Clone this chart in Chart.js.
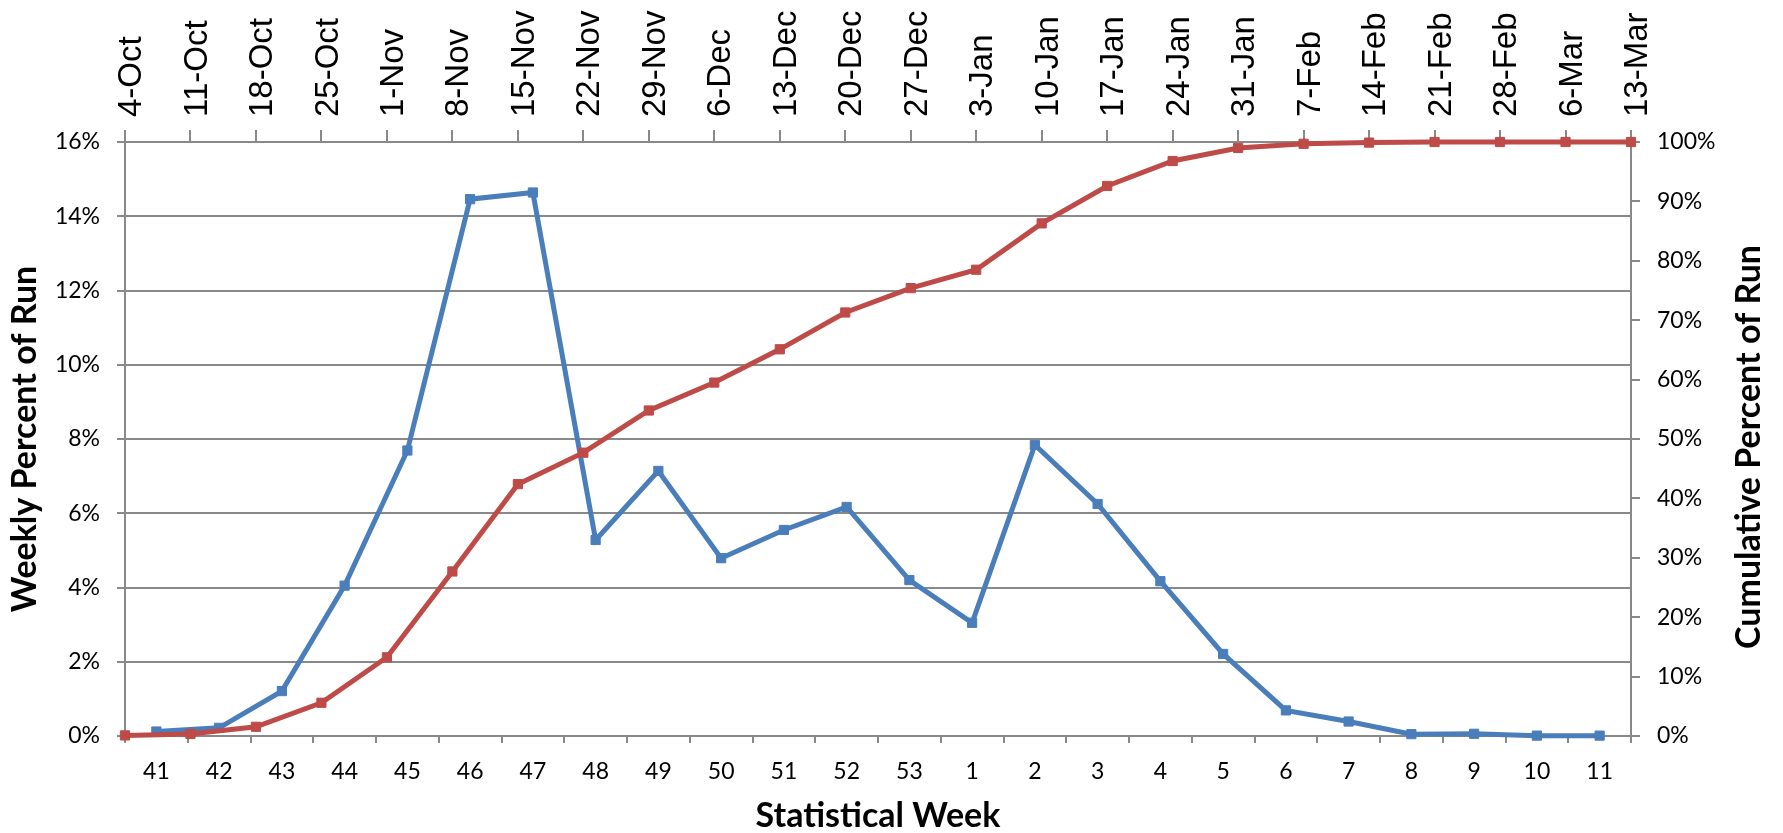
<!DOCTYPE html>
<html>
<head>
<meta charset="utf-8">
<script src="https://cdn.jsdelivr.net/npm/chart.js@4/dist/chart.umd.min.js"></script>
<style>
  html, body { margin: 0; padding: 0; background: #ffffff; }
  #wrap { width: 1783px; height: 833px; }
</style>
</head>
<body>
<div id="wrap"><canvas id="c" width="1783" height="833"></canvas></div>
<script>
// ---- data ----
const weekLabels = ['41','42','43','44','45','46','47','48','49','50','51','52','53','1','2','3','4','5','6','7','8','9','10','11'];
const dateLabels = ['4-Oct','11-Oct','18-Oct','25-Oct','1-Nov','8-Nov','15-Nov','22-Nov','29-Nov','6-Dec','13-Dec','20-Dec','27-Dec','3-Jan','10-Jan','17-Jan','24-Jan','31-Jan','7-Feb','14-Feb','21-Feb','28-Feb','6-Mar','13-Mar'];
const weeklyPercent = [0.12, 0.22, 1.21, 4.05, 7.69, 14.46, 14.64, 5.28, 7.14, 4.79, 5.55, 6.17, 4.2, 3.05, 7.84, 6.25, 4.17, 2.21, 0.69, 0.39, 0.05, 0.06, 0.01, 0.01];
const cumulativePercent = [0.1, 0.34, 1.55, 5.6, 13.25, 27.7, 42.4, 47.7, 54.8, 59.5, 65.1, 71.3, 75.4, 78.5, 86.3, 92.6, 96.8, 99.0, 99.7, 99.9, 100, 100, 100, 100];
const leftAxisMax = 16, leftAxisStep = 2;
const rightAxisMax = 100, rightAxisStep = 10;
const leftTitle = 'Weekly Percent of Run';
const rightTitle = 'Cumulative Percent of Run';
const bottomTitle = 'Statistical Week';

const GRID = '#898989';
const BLUE_LINE = '#4A7EBB', BLUE_PT = '#4A7EBB';
const RED_LINE = '#BE4B48', RED_PT = '#BE4B48';
const TICK_FONT = { family: 'Lato', size: 23 };
const TITLE_FONT = { family: 'Lato', size: 34, weight: 'bold', lineHeight: 1 };

const rightTitlePlugin = {
  id: 'rightTitle',
  afterDraw(chart) {
    const ctx = chart.ctx;
    const area = chart.chartArea;
    ctx.save();
    ctx.translate(chart.width - 34, (area.top + area.bottom) / 2 + 8);
    ctx.rotate(-Math.PI / 2);
    ctx.font = 'bold 34px Lato';
    ctx.fillStyle = '#000';
    ctx.textAlign = 'center';
    ctx.textBaseline = 'middle';
    ctx.fillText(rightTitle, 0, 0);
    ctx.restore();
  }
};

new Chart(document.getElementById('c'), {
  type: 'line',
  data: {
    datasets: [
      {
        label: 'Cumulative',
        data: cumulativePercent,
        xAxisID: 'x2', yAxisID: 'y2',
        borderColor: RED_LINE, backgroundColor: RED_PT,
        pointBackgroundColor: RED_PT, pointBorderColor: RED_PT,
        borderWidth: 5, pointStyle: 'rect', pointRadius: 6.5, pointBorderWidth: 1,
        tension: 0, clip: false, order: 0
      },
      {
        label: 'Weekly',
        data: weeklyPercent,
        xAxisID: 'x', yAxisID: 'y',
        borderColor: BLUE_LINE, backgroundColor: BLUE_PT,
        pointBackgroundColor: BLUE_PT, pointBorderColor: BLUE_PT,
        borderWidth: 5, pointStyle: 'rect', pointRadius: 6.5, pointBorderWidth: 1,
        tension: 0, clip: false, order: 1
      }
    ]
  },
  options: {
    responsive: false,
    animation: false,
    devicePixelRatio: 1,
    layout: { padding: 0 },
    plugins: { legend: { display: false }, tooltip: { enabled: false } },
    scales: {
      x: {
        type: 'category', labels: weekLabels, position: 'bottom', offset: true,
        grid: { display: true, offset: true, drawOnChartArea: false, drawTicks: true, tickLength: 7, color: GRID, lineWidth: 2 },
        border: { display: true, color: GRID, width: 2 },
        ticks: { font: TICK_FONT, color: '#000', padding: 15, autoSkip: false, maxRotation: 0, minRotation: 0 },
        title: { display: true, text: bottomTitle, font: TITLE_FONT, color: '#000', padding: { top: 0, bottom: 0 } },
        afterFit(s) { s.height = 97; }
      },
      x2: {
        type: 'category', labels: dateLabels, position: 'top', offset: false,
        grid: { display: true, offset: false, drawOnChartArea: false, drawTicks: true, tickLength: 12, color: GRID, lineWidth: 2 },
        border: { display: true, color: GRID, width: 2 },
        ticks: { font: { family: 'Liberation Sans', size: 33, lineHeight: 1 }, color: '#000', padding: 13, autoSkip: false, maxRotation: 90, minRotation: 90, labelOffset: 40 },
        afterFit(s) { s.height = 142; }
      },
      y: {
        position: 'left', min: 0, max: leftAxisMax,
        grid: { display: true, drawOnChartArea: true, drawTicks: true, tickLength: 8, color: GRID, lineWidth: 2 },
        border: { display: true, color: GRID, width: 2 },
        ticks: { stepSize: leftAxisStep, font: TICK_FONT, color: '#000', padding: 17, callback: v => v + '%' },
        title: { display: true, text: leftTitle, font: TITLE_FONT, color: '#000', padding: { top: 8, bottom: 0 } },
        afterFit(s) { s.width = 125; }
      },
      y2: {
        position: 'right', min: 0, max: rightAxisMax,
        grid: { display: true, drawOnChartArea: false, drawTicks: true, tickLength: 9, color: GRID, lineWidth: 2 },
        border: { display: true, color: GRID, width: 2 },
        ticks: { stepSize: rightAxisStep, font: TICK_FONT, color: '#000', padding: 17, callback: v => v + '%' },
        afterFit(s) { s.width = 152; }
      }
    }
  },
  plugins: [rightTitlePlugin]
});
</script>
</body>
</html>
